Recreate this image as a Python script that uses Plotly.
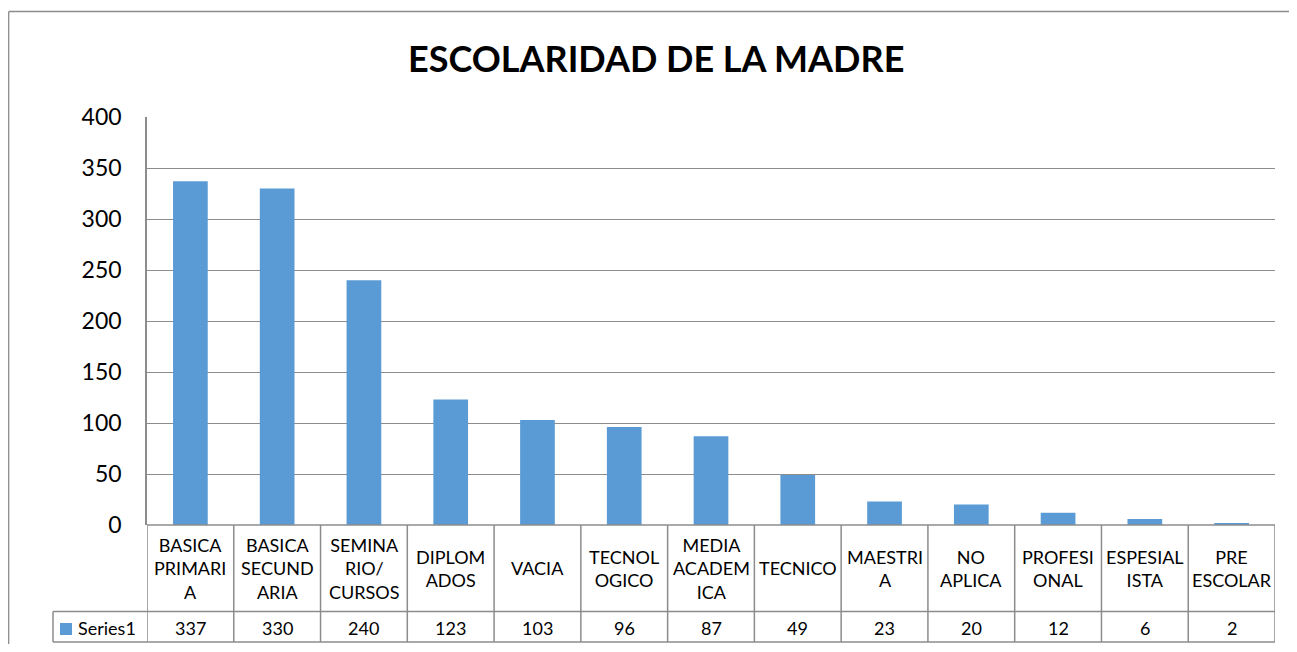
import plotly.graph_objects as go

categories = ["BASICA PRIMARIA", "BASICA SECUNDARIA", "SEMINARIO/CURSOS", "DIPLOMADOS",
              "VACIA", "TECNOLOGICO", "MEDIA ACADEMICA", "TECNICO", "MAESTRIA",
              "NO APLICA", "PROFESIONAL", "ESPESIALISTA", "PRE ESCOLAR"]
labels = ["BASICA<br>PRIMARI<br>A", "BASICA<br>SECUND<br>ARIA", "SEMINA<br>RIO/<br>CURSOS",
          "DIPLOM<br>ADOS", "VACIA", "TECNOL<br>OGICO", "MEDIA<br>ACADEM<br>ICA", "TECNICO",
          "MAESTRI<br>A", "NO<br>APLICA", "PROFESI<br>ONAL", "ESPESIAL<br>ISTA", "PRE<br>ESCOLAR"]
values = [337, 330, 240, 123, 103, 96, 87, 49, 23, 20, 12, 6, 2]
series_name = "Series1"
title = "ESCOLARIDAD DE LA MADRE"

OFF = 8  # default body margin of the page
W, H = 1297 - 2 * OFF, 652 - 2 * OFF
FONT = "Lato"
GRID = "#8C8C8C"
BAR = "#5B9BD5"

def px(x):
    return (x - OFF) / W

def py(y):
    return 1 - (y - OFF) / H

n = len(categories)
fig = go.Figure(go.Bar(x=list(range(n)), y=values, marker=dict(color=BAR, line=dict(width=0)),
                       name=series_name, hoverinfo="y"))

shapes = []
annotations = []

# outer chart border
shapes.append(dict(type="line", xref="paper", yref="paper", x0=px(8.7), x1=px(1300), y0=py(11.5), y1=py(11.5),
                   line=dict(color=GRID, width=1.3)))
shapes.append(dict(type="line", xref="paper", yref="paper", x0=px(8.7), x1=px(8.7), y0=py(11.5), y1=py(660),
                   line=dict(color=GRID, width=1.3)))

row1_top, row1_bot, row2_bot = 525, 611.5, 642.0
# horizontal table lines
for yy, x0 in [(row1_top, -0.5), (row1_bot, None), (row2_bot, None)]:
    if x0 is None:
        shapes.append(dict(type="line", xref="paper", yref="paper", x0=px(53), x1=px(147), y0=py(yy), y1=py(yy),
                           line=dict(color=GRID, width=1.5)))
    shapes.append(dict(type="line", xref="x", yref="paper", x0=-0.5, x1=n - 0.5, y0=py(yy), y1=py(yy),
                       line=dict(color=GRID, width=1.5)))
# vertical table lines
for i in range(n + 1):
    shapes.append(dict(type="line", xref="x", yref="paper", x0=i - 0.5, x1=i - 0.5, y0=py(row1_top), y1=py(row2_bot),
                       line=dict(color=GRID, width=1.5)))
shapes.append(dict(type="line", xref="paper", yref="paper", x0=px(53), x1=px(53), y0=py(row1_bot), y1=py(row2_bot),
                   line=dict(color=GRID, width=1.5)))

# category labels and values
for i in range(n):
    annotations.append(dict(x=i, xref="x", y=py((row1_top + row1_bot) / 2), yref="paper", text=labels[i],
                            showarrow=False, yanchor="middle", xanchor="center", align="center",
                            font=dict(family=FONT, size=18, color="#000000")))
    annotations.append(dict(x=i, xref="x", y=py(628), yref="paper", text=str(values[i]),
                            showarrow=False, yanchor="middle", xanchor="center",
                            font=dict(family=FONT, size=18, color="#000000")))

# legend key in table
shapes.append(dict(type="rect", xref="paper", yref="paper", x0=px(60), x1=px(72), y0=py(623), y1=py(635),
                   fillcolor=BAR, line=dict(width=0)))
annotations.append(dict(x=px(76), xref="paper", y=py(628), yref="paper", text=series_name, showarrow=False,
                        xanchor="left", yanchor="middle", font=dict(family=FONT, size=18, color="#000000")))

# title
annotations.append(dict(x=px(656), xref="paper", y=py(58), yref="paper", text="<b>" + title + "</b>",
                        showarrow=False, xanchor="center", yanchor="middle",
                        font=dict(family=FONT, size=36, color="#000000")))

fig.update_layout(
    width=W, height=H, margin=dict(l=0, r=0, t=0, b=0, autoexpand=False),
    paper_bgcolor="white", plot_bgcolor="white",
    showlegend=False, bargap=0.6,
    shapes=shapes, annotations=annotations,
    xaxis=dict(domain=[px(147), px(1275)], range=[-0.5, n - 0.5], showticklabels=False, showgrid=False,
               zeroline=False, showline=False, ticks=""),
    yaxis=dict(domain=[py(525), py(117)], range=[0, 400], tick0=0, dtick=50, showgrid=True,
               gridcolor=GRID, gridwidth=1.3, zeroline=False, showline=True, linecolor=GRID, linewidth=1.5,
               ticks="", ticklabelstandoff=19, tickfont=dict(family=FONT, size=23, color="#000000")),
)

fig.write_html("out.html")
